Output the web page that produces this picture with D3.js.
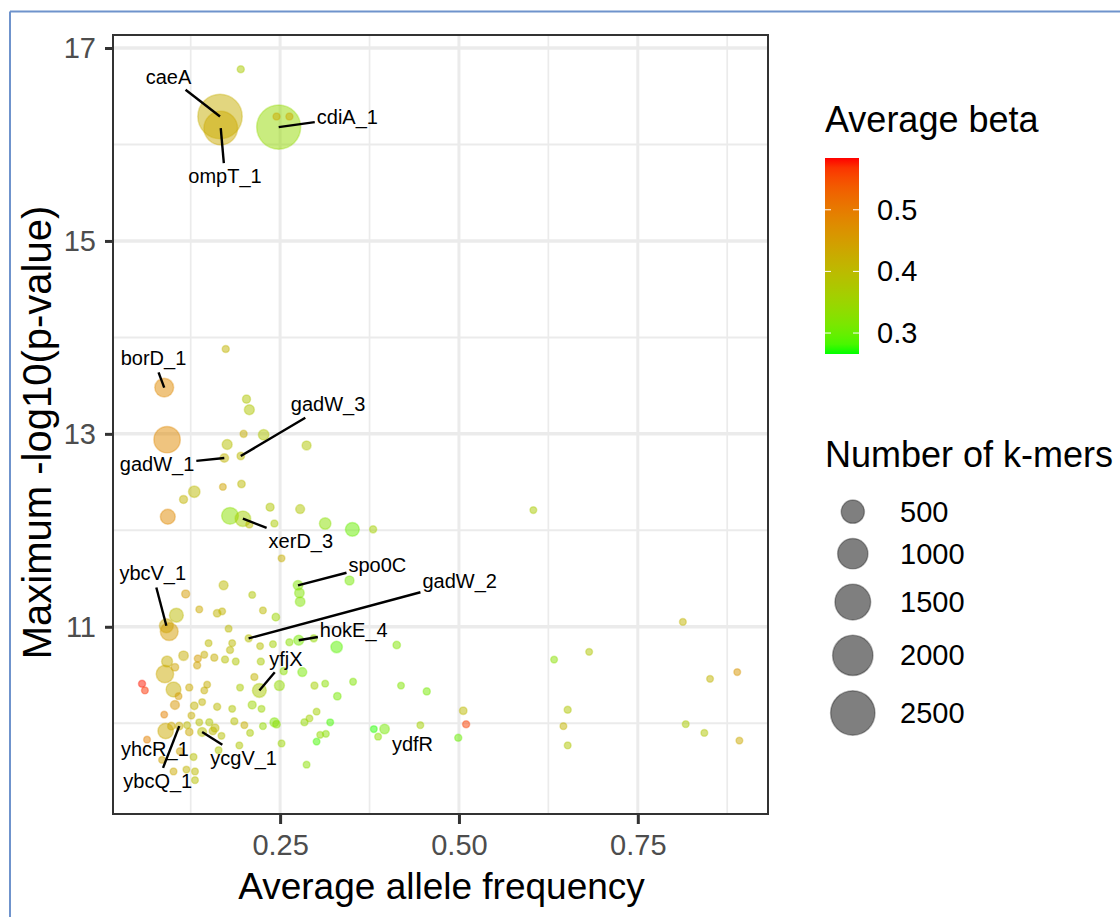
<!DOCTYPE html>
<html>
<head>
<meta charset="utf-8">
<title>Average allele frequency vs maximum -log10(p-value)</title>
<script src="https://d3js.org/d3.v7.min.js"></script>
<style>
  body { margin: 0; background: #fff; }
  svg { display: block; font-family: "Liberation Sans", Arial, sans-serif; }
</style>
</head>
<body>
<svg width="1120" height="917"></svg>
<script>
// one entry per gene: average allele frequency, max -log10(p), average beta, number of k-mers
const afreq = [
  0.195, 0.166, 0.167, 0.248, 0.245, 0.263, 0.174, 0.088, 0.203, 0.207,
  0.092, 0.199, 0.227, 0.176, 0.287, 0.172, 0.195, 0.170, 0.196, 0.130,
  0.115, 0.093, 0.180, 0.198, 0.207, 0.236, 0.278, 0.242, 0.313, 0.351,
  0.380, 0.252, 0.275, 0.277, 0.278, 0.347, 0.171, 0.211, 0.118, 0.137,
  0.105, 0.091, 0.095, 0.162, 0.169, 0.226, 0.244, 0.178, 0.206, 0.183,
  0.180, 0.222, 0.240, 0.263, 0.276, 0.297, 0.329, 0.413, 0.150, 0.115,
  0.135, 0.134, 0.144, 0.158, 0.173, 0.188, 0.223, 0.092, 0.103, 0.089,
  0.101, 0.057, 0.061, 0.108, 0.103, 0.123, 0.148, 0.144, 0.194, 0.214,
  0.221, 0.249, 0.255, 0.281, 0.298, 0.313, 0.352, 0.419, 0.455, 0.330,
  0.130, 0.141, 0.162, 0.183, 0.211, 0.224, 0.088, 0.126, 0.301, 0.291,
  0.284, 0.320, 0.242, 0.245, 0.226, 0.186, 0.200, 0.137, 0.151, 0.159,
  0.156, 0.090, 0.109, 0.098, 0.120, 0.123, 0.141, 0.168, 0.208, 0.252,
  0.306, 0.314, 0.301, 0.381, 0.396, 0.387, 0.446, 0.064, 0.110, 0.085,
  0.129, 0.164, 0.193, 0.287, 0.101, 0.119, 0.131, 0.131, 0.604, 0.813,
  0.633, 0.682, 0.851, 0.889, 0.652, 0.646, 0.652, 0.817, 0.843, 0.892,
  0.506, 0.510, 0.499
];
const maxLogP = [
  16.78, 16.29, 16.17, 16.18, 16.29, 16.29, 13.88, 13.48, 13.36, 13.25,
  12.94, 13.00, 12.99, 12.89, 12.88, 12.75, 12.77, 12.45, 12.48, 12.40,
  12.32, 12.14, 12.15, 12.12, 12.06, 12.24, 12.22, 12.07, 12.07, 12.01,
  12.01, 11.71, 11.43, 11.35, 11.26, 11.48, 11.43, 11.33, 11.34, 11.18,
  11.12, 11.01, 10.95, 11.14, 11.16, 11.17, 11.10, 10.98, 10.88, 10.83,
  10.76, 10.80, 10.82, 10.84, 10.86, 10.88, 10.79, 10.81, 10.83, 10.70,
  10.67, 10.60, 10.71, 10.68, 10.66, 10.64, 10.64, 10.64, 10.58, 10.51,
  10.35, 10.41, 10.34, 10.28, 10.19, 10.37, 10.40, 10.34, 10.37, 10.48,
  10.34, 10.39, 10.54, 10.53, 10.39, 10.41, 10.43, 10.39, 10.33, 10.28,
  10.18, 10.22, 10.17, 10.15, 10.19, 10.15, 10.09, 10.08, 10.12, 10.05,
  10.01, 10.01, 10.01, 9.99, 9.97, 10.02, 9.98, 10.01, 10.01, 9.95,
  9.92, 9.92, 9.97, 9.97, 9.98, 9.91, 9.91, 9.87, 9.90, 9.79,
  9.88, 9.89, 9.81, 9.94, 9.94, 9.86, 9.98, 9.83, 9.71, 9.62,
  9.65, 9.72, 9.77, 9.57, 9.50, 9.52, 9.50, 9.41, 12.21, 11.05,
  10.66, 10.74, 10.46, 10.53, 10.14, 9.97, 9.77, 9.99, 9.90, 9.82,
  10.13, 9.99, 9.85
];
const avgBeta = [
  0.37, 0.42, 0.43, 0.34, 0.43, 0.43, 0.41, 0.48, 0.38, 0.38,
  0.48, 0.42, 0.38, 0.39, 0.38, 0.41, 0.40, 0.44, 0.40, 0.40,
  0.41, 0.48, 0.33, 0.36, 0.40, 0.38, 0.38, 0.37, 0.33, 0.30,
  0.36, 0.42, 0.32, 0.32, 0.32, 0.31, 0.40, 0.38, 0.45, 0.43,
  0.40, 0.43, 0.45, 0.41, 0.41, 0.40, 0.35, 0.40, 0.39, 0.40,
  0.40, 0.39, 0.36, 0.33, 0.31, 0.34, 0.29, 0.32, 0.40, 0.42,
  0.45, 0.44, 0.42, 0.42, 0.39, 0.38, 0.37, 0.42, 0.44, 0.43,
  0.42, 0.58, 0.57, 0.45, 0.46, 0.43, 0.42, 0.42, 0.37, 0.41,
  0.37, 0.34, 0.33, 0.31, 0.36, 0.33, 0.32, 0.32, 0.31, 0.31,
  0.41, 0.41, 0.40, 0.38, 0.35, 0.35, 0.49, 0.42, 0.36, 0.36,
  0.34, 0.28, 0.32, 0.33, 0.34, 0.39, 0.42, 0.39, 0.38, 0.40,
  0.40, 0.43, 0.42, 0.43, 0.40, 0.43, 0.39, 0.39, 0.37, 0.35,
  0.34, 0.33, 0.28, 0.27, 0.31, 0.33, 0.36, 0.49, 0.44, 0.44,
  0.39, 0.38, 0.38, 0.33, 0.43, 0.41, 0.40, 0.39, 0.37, 0.41,
  0.33, 0.38, 0.41, 0.46, 0.38, 0.41, 0.38, 0.37, 0.38, 0.43,
  0.40, 0.56, 0.30
];
const nKmers = [
  2, 2500, 1300, 2450, 2, 2, 2, 280, 7, 27,
  705, 2, 35, 27, 15, 12, 4, 1, 4, 52,
  7, 134, 200, 155, 2, 7, 15, 2, 52, 106,
  2, 1, 22, 22, 22, 15, 15, 1, 7, 1,
  106, 106, 239, 4, 1, 1, 4, 1, 2, 1,
  2, 1, 1, 2, 27, 2, 52, 4, 1, 22,
  2, 2, 1, 2, 2, 1, 2, 42, 4, 223,
  134, 2, 1, 1, 15, 2, 1, 1, 1, 2,
  106, 27, 2, 15, 2, 1, 1, 1, 2, 4,
  4, 1, 2, 1, 7, 1, 1, 1, 1, 1,
  2, 1, 15, 4, 1, 2, 1, 1, 2, 7,
  4, 153, 4, 4, 1, 4, 15, 1, 1, 1,
  1, 1, 1, 1, 22, 1, 1, 1, 2, 1,
  1, 1, 1, 1, 1, 1, 1, 1, 1, 1,
  1, 1, 1, 1, 2, 1, 1, 1, 1, 1,
  4, 2, 2
];

// gene labels: which point, and where the label text sits (data units, baseline)
const labelGene  = ["caeA", "ompT_1", "cdiA_1", "borD_1", "gadW_3", "gadW_1", "xerD_3", "spo0C",
                    "gadW_2", "hokE_4", "yfjX", "ybcV_1", "yhcR_1", "ybcQ_1", "ycgV_1", "ydfR"];
const labelPoint = [1, 2, 3, 7, 16, 15, 23, 32, 48, 54, 80, 41, 111, 112, 116, 124];
const labelX     = [0.094, 0.173, 0.344, 0.073, 0.317, 0.078, 0.279, 0.386,
                    0.501, 0.353, 0.258, 0.072, 0.075, 0.079, 0.199, 0.435];
const labelY     = [16.63, 15.60, 16.21, 13.71, 13.24, 12.61, 11.82, 11.57,
                    11.40, 10.89, 10.59, 11.48, 9.66, 9.33, 9.57, 9.71];

const xTicks = [0.25, 0.50, 0.75];
const xMinor = [0.125, 0.375, 0.625, 0.875];
const yTicks = [11, 13, 15, 17];
const yMinor = [10, 12, 14, 16];
const betaTicks = [0.3, 0.4, 0.5];
const sizeBreaks = [500, 1000, 1500, 2000, 2500];

const svg = d3.select("svg");
const panel = {left: 113, right: 768, top: 35, bottom: 814};

const x = d3.scaleLinear().domain([0.0164, 0.932]).range([panel.left, panel.right]);
const y = d3.scaleLinear().domain([9.059, 17.135]).range([panel.bottom, panel.top]);
const color = d3.scaleLinear().domain([0.266, 0.584])
    .range(["#00ff00", "#ff0000"]).interpolate(d3.interpolateLab);
const r = d3.scaleSqrt().domain([0, 2500]).range([3.0, 22.2]);

// slide frame
svg.append("line").attr("x1", 10).attr("x2", 1120).attr("y1", 11.5).attr("y2", 11.5)
   .attr("stroke", "#6f93cc").attr("stroke-width", 2);
svg.append("line").attr("x1", 10).attr("x2", 10).attr("y1", 11.5).attr("y2", 917)
   .attr("stroke", "#6f93cc").attr("stroke-width", 2);

// grid
const grid = svg.append("g");
grid.selectAll(".vminor").data(xMinor).join("line")
    .attr("x1", d => x(d)).attr("x2", d => x(d)).attr("y1", panel.top).attr("y2", panel.bottom)
    .attr("stroke", "#ebebeb").attr("stroke-width", 1.7);
grid.selectAll(".hminor").data(yMinor).join("line")
    .attr("y1", d => y(d)).attr("y2", d => y(d)).attr("x1", panel.left).attr("x2", panel.right)
    .attr("stroke", "#ebebeb").attr("stroke-width", 2);
grid.selectAll(".vmajor").data(xTicks).join("line")
    .attr("x1", d => x(d)).attr("x2", d => x(d)).attr("y1", panel.top).attr("y2", panel.bottom)
    .attr("stroke", "#ebebeb").attr("stroke-width", 3);
grid.selectAll(".hmajor").data(yTicks).join("line")
    .attr("y1", d => y(d)).attr("y2", d => y(d)).attr("x1", panel.left).attr("x2", panel.right)
    .attr("stroke", "#ebebeb").attr("stroke-width", 3.5);

// points
const pts = d3.range(afreq.length);
svg.append("g").selectAll("circle").data(pts).join("circle")
    .attr("cx", i => x(afreq[i]))
    .attr("cy", i => y(maxLogP[i]))
    .attr("r", i => r(nKmers[i]))
    .attr("fill", i => color(avgBeta[i]))
    .attr("fill-opacity", 0.5)
    .attr("stroke", i => color(avgBeta[i]))
    .attr("stroke-opacity", 0.35)
    .attr("stroke-width", 1.5);

// labels with repel-style segments
const segG = svg.append("g");
const labG = svg.append("g");
labelGene.forEach((g, k) => {
    const t = labG.append("text")
        .attr("x", x(labelX[k])).attr("y", y(labelY[k]))
        .attr("text-anchor", "middle")
        .attr("font-size", 20).attr("fill", "#000")
        .text(g);
    const b = t.node().getBBox();
    const pad = 2;
    const bw = b.width / 2 + pad, bh = b.height / 2 + pad;
    const cx = b.x + b.width / 2, cy = b.y + b.height / 2;
    const i = labelPoint[k];
    const px = x(afreq[i]), py = y(maxLogP[i]);
    const dx = px - cx, dy = py - cy;
    const tt = Math.min(dx ? bw / Math.abs(dx) : Infinity, dy ? bh / Math.abs(dy) : Infinity);
    if (tt >= 1) return;
    const ex = cx + dx * tt, ey = cy + dy * tt;
    if (Math.hypot(px - ex, py - ey) < 12) return;
    segG.append("line")
        .attr("x1", px).attr("y1", py).attr("x2", ex).attr("y2", ey)
        .attr("stroke", "#000").attr("stroke-width", 2.4);
});

// panel border
svg.append("rect")
    .attr("x", panel.left).attr("y", panel.top)
    .attr("width", panel.right - panel.left).attr("height", panel.bottom - panel.top)
    .attr("fill", "none").attr("stroke", "#333").attr("stroke-width", 2);

// axes
const xAxis = svg.append("g").attr("transform", `translate(0,${panel.bottom})`)
    .call(d3.axisBottom(x).tickValues(xTicks).tickFormat(d3.format(".2f"))
          .tickSize(10).tickPadding(10));
const yAxis = svg.append("g").attr("transform", `translate(${panel.left},0)`)
    .call(d3.axisLeft(y).tickValues(yTicks).tickSize(8).tickPadding(9));
[xAxis, yAxis].forEach(a => {
    a.select(".domain").remove();
    a.selectAll(".tick line").attr("stroke", "#333").attr("stroke-width", 3);
    a.selectAll(".tick text").attr("fill", "#4d4d4d").attr("font-size", 29)
     .attr("font-family", "Liberation Sans, Arial, sans-serif");
});

svg.append("text")
    .attr("x", (panel.left + panel.right) / 2 + 1).attr("y", 899)
    .attr("text-anchor", "middle").attr("font-size", 37).attr("fill", "#000")
    .text("Average allele frequency");
svg.append("text")
    .attr("transform", `translate(51,${(panel.top + panel.bottom) / 2 + 8}) rotate(-90)`)
    .attr("text-anchor", "middle").attr("font-size", 40).attr("fill", "#000")
    .text("Maximum -log10(p-value)");

// colour legend
const legX = 825;
svg.append("text").attr("x", legX).attr("y", 132)
    .attr("font-size", 36).attr("fill", "#000").text("Average beta");

const barY = d3.scaleLinear().domain(color.domain()).range([354, 158]);
const grad = svg.append("defs").append("linearGradient")
    .attr("id", "betaGrad").attr("x1", 0).attr("y1", 1).attr("x2", 0).attr("y2", 0);
grad.selectAll("stop").data(d3.range(0, 1.0001, 0.05)).join("stop")
    .attr("offset", d => d)
    .attr("stop-color", d => color(color.domain()[0] + d * (color.domain()[1] - color.domain()[0])));
svg.append("rect")
    .attr("x", legX).attr("y", barY.range()[1])
    .attr("width", 34).attr("height", barY.range()[0] - barY.range()[1])
    .attr("fill", "url(#betaGrad)");
const bt = svg.append("g");
bt.selectAll(".tl").data(betaTicks).join("line")
    .attr("x1", legX).attr("x2", legX + 6).attr("y1", d => barY(d)).attr("y2", d => barY(d))
    .attr("stroke", "#fff").attr("stroke-width", 1);
bt.selectAll(".tr").data(betaTicks).join("line")
    .attr("x1", legX + 28).attr("x2", legX + 34).attr("y1", d => barY(d)).attr("y2", d => barY(d))
    .attr("stroke", "#fff").attr("stroke-width", 1);
bt.selectAll("text").data(betaTicks).join("text")
    .attr("x", 877).attr("y", d => barY(d) + 10)
    .attr("font-size", 29).attr("fill", "#000")
    .text(d => d3.format(".1f")(d));

// size legend
svg.append("text").attr("x", legX).attr("y", 467)
    .attr("font-size", 36).attr("fill", "#000").text("Number of k-mers");
let cyPos = [];
sizeBreaks.forEach((s, i) => {
    if (i === 0) cyPos.push(511.7);
    else cyPos.push(cyPos[i - 1] + r(sizeBreaks[i - 1]) + r(s) + 1.5 + 13.8);
});
const sl = svg.append("g");
sl.selectAll("circle").data(sizeBreaks).join("circle")
    .attr("cx", 852.8).attr("cy", (d, i) => cyPos[i]).attr("r", d => r(d))
    .attr("fill", "#000").attr("fill-opacity", 0.5)
    .attr("stroke", "#000").attr("stroke-opacity", 0.3).attr("stroke-width", 1.5);
sl.selectAll("text").data(sizeBreaks).join("text")
    .attr("x", 900).attr("y", (d, i) => cyPos[i] + 10)
    .attr("font-size", 29).attr("fill", "#000")
    .text(d => d);
</script>
</body>
</html>
